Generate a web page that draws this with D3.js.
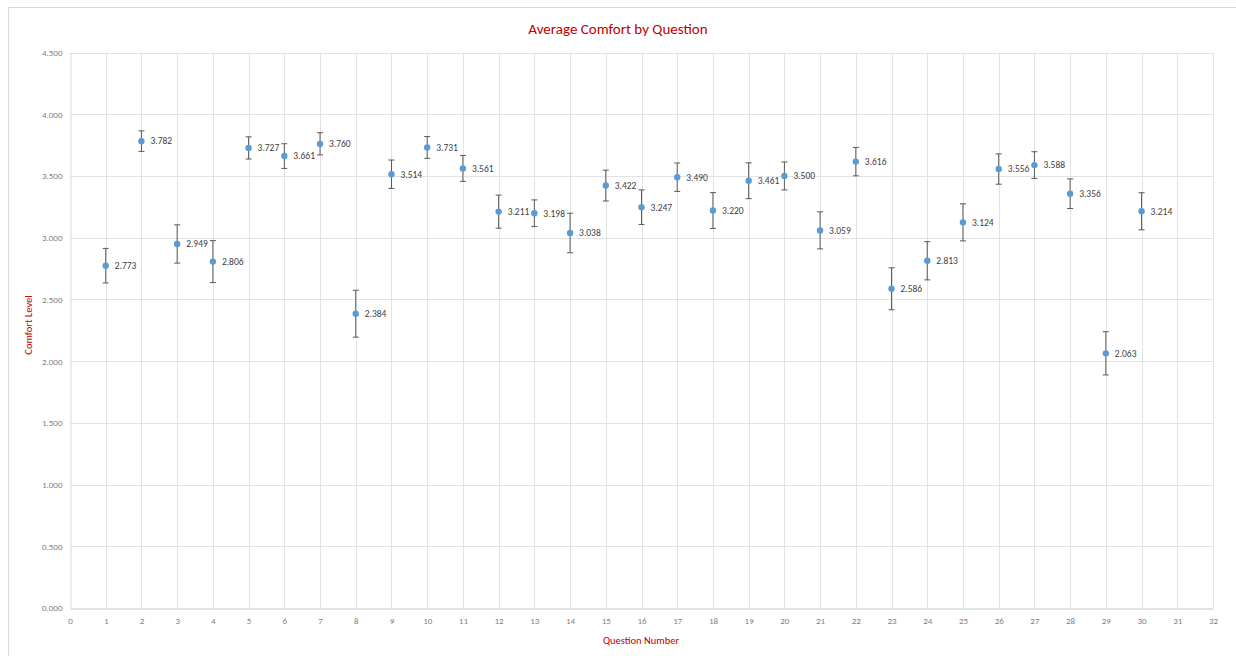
<!DOCTYPE html>
<html>
<head>
<meta charset="utf-8">
<script src="https://cdn.jsdelivr.net/npm/d3@7"></script>
<style>
  html, body { margin: 0; padding: 0; background: #fff; }
  svg { display: block; }
</style>
</head>
<body>
<script>
const questions = [1,2,3,4,5,6,7,8,9,10,11,12,13,14,15,16,17,18,19,20,21,22,23,24,25,26,27,28,29,30];
const means = [2.773,3.782,2.949,2.806,3.727,3.661,3.760,2.384,3.514,3.731,3.561,3.211,3.198,3.038,3.422,3.247,3.490,3.220,3.461,3.500,3.059,3.616,2.586,2.813,3.124,3.556,3.588,3.356,2.063,3.214];
const errors = [0.14,0.083,0.155,0.17,0.09,0.10,0.09,0.19,0.115,0.088,0.105,0.134,0.108,0.16,0.125,0.14,0.115,0.145,0.145,0.113,0.15,0.115,0.17,0.155,0.15,0.123,0.108,0.12,0.175,0.15];
const xTicks = d3.range(0, 33, 1);
const yTicks = [0, 0.5, 1, 1.5, 2, 2.5, 3, 3.5, 4, 4.5];
const titleText = "Average Comfort by Question";
const xLabel = "Question Number";
const yLabel = "Comfort Level";

const W = 1236, H = 656;
const mLeft = 70, mRight = 1213, mTop = 52.5, mBottom = 608;
const font = "Carlito, 'Open Sans', 'Liberation Sans', sans-serif";

const svg = d3.select("body").append("svg").attr("width", W).attr("height", H);

// outer frame
svg.append("rect").attr("x", 8.5).attr("y", 7.5).attr("width", W + 10).attr("height", H + 10)
  .attr("fill", "#fff").attr("stroke", "#d9d9d9").attr("stroke-width", 1);

const x = d3.scaleLinear().domain([0, 32]).range([mLeft, mRight]);
const y = d3.scaleLinear().domain([0, 4.5]).range([mBottom, mTop]);

// gridlines
svg.append("g").selectAll("line").data(yTicks.filter(d => d > 0)).join("line")
  .attr("x1", mLeft).attr("x2", mRight)
  .attr("y1", d => Math.round(y(d)) + 0.5).attr("y2", d => Math.round(y(d)) + 0.5)
  .attr("stroke", "#e3e3e3").attr("stroke-width", 1);
svg.append("g").selectAll("line").data(xTicks.filter(d => d > 0)).join("line")
  .attr("x1", d => Math.round(x(d)) + 0.5).attr("x2", d => Math.round(x(d)) + 0.5)
  .attr("y1", mTop).attr("y2", mBottom)
  .attr("stroke", "#e3e3e3").attr("stroke-width", 1);

// axes
const xAxis = d3.axisBottom(x).tickValues(xTicks).tickFormat(d3.format("d")).tickSize(0).tickPadding(9);
const gx = svg.append("g").attr("transform", `translate(0,${Math.round(mBottom) + 0.5})`).call(xAxis);
gx.select(".domain").attr("stroke", "#c8c8c8");
gx.selectAll("text").attr("fill", "#7f7f7f").style("font-family", font).style("font-size", "9px");

const yAxis = d3.axisLeft(y).tickValues(yTicks).tickFormat(d3.format(".3f")).tickSize(0).tickPadding(8);
const gy = svg.append("g").attr("transform", `translate(${Math.round(mLeft) + 0.5},0)`).call(yAxis);
gy.select(".domain").attr("stroke", "#d9d9d9");
gy.selectAll("text").attr("fill", "#7f7f7f").style("font-family", font).style("font-size", "9px");

// title and axis labels
svg.append("text").attr("x", 618).attr("y", 34).attr("text-anchor", "middle")
  .attr("fill", "#c00000").style("font-family", font).style("font-size", "15px").text(titleText);
svg.append("text").attr("x", 641).attr("y", 644).attr("text-anchor", "middle")
  .attr("fill", "#c00000").style("font-family", font).style("font-size", "10.5px").text(xLabel);
svg.append("text").attr("transform", "translate(32,325) rotate(-90)").attr("text-anchor", "middle")
  .attr("fill", "#c00000").style("font-family", font).style("font-size", "10.5px").text(yLabel);

const data = questions.map((q, i) => ({ q, m: means[i], e: errors[i] }));

// error bars
const eb = svg.append("g").selectAll("g").data(data).join("g");
eb.append("line")
  .attr("x1", d => x(d.q)).attr("x2", d => x(d.q))
  .attr("y1", d => y(d.m + d.e)).attr("y2", d => y(d.m - d.e))
  .attr("stroke", "#595959").attr("stroke-width", 1);
eb.append("line")
  .attr("x1", d => x(d.q) - 3).attr("x2", d => x(d.q) + 3)
  .attr("y1", d => y(d.m + d.e)).attr("y2", d => y(d.m + d.e))
  .attr("stroke", "#595959").attr("stroke-width", 1);
eb.append("line")
  .attr("x1", d => x(d.q) - 3).attr("x2", d => x(d.q) + 3)
  .attr("y1", d => y(d.m - d.e)).attr("y2", d => y(d.m - d.e))
  .attr("stroke", "#595959").attr("stroke-width", 1);

// points
svg.append("g").selectAll("circle").data(data).join("circle")
  .attr("cx", d => x(d.q)).attr("cy", d => y(d.m)).attr("r", 3.2)
  .attr("fill", "#5b9bd5");

// labels
svg.append("g").selectAll("text").data(data).join("text")
  .attr("x", d => x(d.q) + 9).attr("y", d => y(d.m)).attr("dy", "0.35em")
  .attr("fill", "#404040").style("font-family", font).style("font-size", "9.5px")
  .text(d => d3.format(".3f")(d.m));
</script>
</body>
</html>
